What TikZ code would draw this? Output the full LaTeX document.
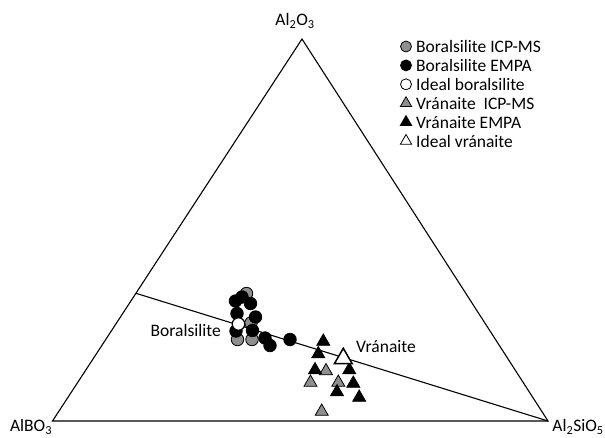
\documentclass[tikz,border=0pt]{standalone}
\usepackage{fontspec}
\setmainfont{Carlito}
\usetikzlibrary{shapes.geometric}
\definecolor{mgray}{HTML}{8F8F8F}
\begin{document}
\begin{tikzpicture}[x=1pt,y=-1pt,
  font=\fontsize{17.5}{21}\selectfont,
  mk/.style={draw=black, line width=0.8pt, inner sep=0pt},
  dotc/.style={mk, circle, minimum size=12.5pt},
  dott/.style={mk, regular polygon, regular polygon sides=3, minimum size=15pt},
  gdot/.style={dotc, fill=mgray},
  kdot/.style={dotc, fill=black},
  wdot/.style={dotc, fill=white, line width=1.2pt},
  gtri/.style={dott, fill=mgray},
  ktri/.style={dott, fill=black},
  wtri/.style={dott, fill=white, minimum size=20.5pt, line width=1.5pt},
  lgc/.style={mk, circle, minimum size=11pt},
  lgt/.style={mk, regular polygon, regular polygon sides=3, minimum size=13pt},
  lab/.style={inner sep=0pt, anchor=west}]
\useasboundingbox (0,0) rectangle (605,437);
% triangle
\coordinate (A) at (302,39);
\coordinate (B) at (52.5,421);
\coordinate (C) at (548,421);
\coordinate (L) at (136,293.3);
\draw[line width=1.1pt] (A) -- (B) -- (C) -- cycle;
\draw[line width=1.1pt] (L) -- (C);
% corner labels
\node[inner sep=0pt] (tA) at (295,21) {Al\textsubscript{2}O\textsubscript{3}};
\node[inner sep=0pt] (tB) at (31,427) {AlBO\textsubscript{3}};
\node[inner sep=0pt] (tC) at (578,427) {Al\textsubscript{2}SiO\textsubscript{5}};
% boralsilite points
\foreach \x/\y [count=\i] in {246.5/293.5, 251/323, 237.5/339.5, 252/339.5}
  \node[gdot] (g\i) at (\x,\y) {};
\foreach \x/\y [count=\i] in {242/297, 235.5/301, 250.5/303.5, 237/313.5, 255.5/317, 236/331, 252.5/330.5, 265/338, 270/345.5, 290/339.5}
  \node[kdot] (k\i) at (\x,\y) {};
\node[wdot] (w1) at (238.5,324) {};
% vranaite points
\foreach \x/\y [count=\i] in {326/371, 310.5/382.5, 338.3/382.5, 321.7/411.5}
  \node[gtri] (gt\i) at (\x,\y) {};
\foreach \x/\y [count=\i] in {323.3/341.5, 318.3/354, 315/370, 349.3/370, 337/392, 353.3/383.5, 359.2/397.5}
  \node[ktri] (kt\i) at (\x,\y) {};
\node[wtri] (wt1) at (343.3,358.5) {};
% labels
\node[lab] (lb1) at (150.5,330) {Boralsilite};
\node[lab] (lb2) at (356,347) {Vránaite};
% legend
\def\ly{46.5}\def\ld{18.9}
\node[lgc, fill=mgray] (m1) at (406,{\ly+0*\ld}) {};
\node[lgc, fill=black] (m2) at (406,{\ly+1*\ld}) {};
\node[lgc, fill=white] (m3) at (406,{\ly+2*\ld}) {};
\node[lgt, fill=mgray] (m4) at (406,{\ly+3*\ld}) {};
\node[lgt, fill=black] (m5) at (406,{\ly+4*\ld}) {};
\node[lgt, fill=white] (m6) at (406,{\ly+5*\ld}) {};
\node[lab] (t1) at (416,{\ly+0*\ld}) {Boralsilite ICP-MS};
\node[lab] (t2) at (416,{\ly+1*\ld}) {Boralsilite EMPA};
\node[lab] (t3) at (416,{\ly+2*\ld}) {Ideal boralsilite};
\node[lab] (t4) at (416,{\ly+3*\ld}) {Vránaite\ \ ICP-MS};
\node[lab] (t5) at (416,{\ly+4*\ld}) {Vránaite EMPA};
\node[lab] (t6) at (416,{\ly+5*\ld}) {Ideal vránaite};
\end{tikzpicture}
\end{document}
